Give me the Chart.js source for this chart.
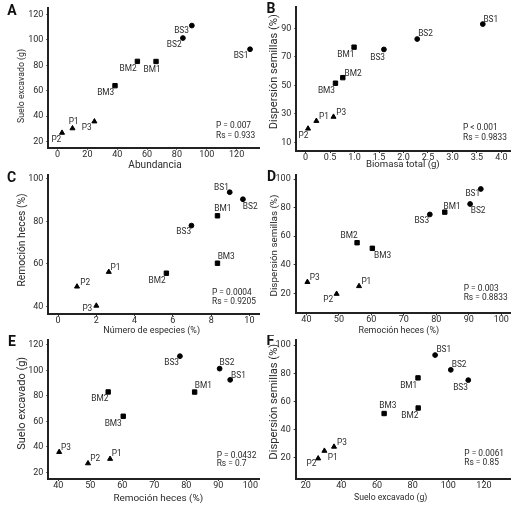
<!DOCTYPE html>
<html><head><meta charset="utf-8">
<script src="https://cdn.jsdelivr.net/npm/chart.js@4.4.1/dist/chart.umd.min.js"></script>
<style>
html,body{margin:0;padding:0;background:#fff;width:528px;height:507px;overflow:hidden;position:relative}
canvas{position:absolute}
</style></head><body>
<script>
// ---- data ----
const sites = ['BS1','BS2','BS3','BM1','BM2','BM3','P1','P2','P3'];
const siteType = ['BS','BS','BS','BM','BM','BM','P','P','P'];
const sueloExcavado = [92.6, 101.4, 111.2, 83, 83.1, 64, 30.5, 27, 35.9];
const abundancia = [129, 84, 90, 66, 53.5, 38.5, 10, 3, 24.7];
const dispersionSemillas = [93, 82.5, 75.2, 76.8, 55.4, 51.5, 25, 19.6, 27.9];
const biomasaTotal = [3.62, 2.28, 1.6, 0.99, 0.76, 0.61, 0.22, 0.05, 0.57];
const remocionHeces = [93.7, 90.4, 78, 82.6, 55.6, 60.3, 56.2, 49.3, 40.3];
const numeroEspecies = [8.97, 9.66, 6.97, 8.33, 5.66, 8.33, 2.65, 0.99, 2.0];

// ---- tick values / labels ----
const ticksAbundancia = [0,20,40,60,80,100,120];
const ticksSuelo = [20,40,60,80,100,120];
const ticksBiomasa = [0,0.5,1,1.5,2,2.5,3,3.5,4];
const labelsBiomasa = ['0','0.5','1.0','1.5','2.0','2.5','3.0','3.5','4.0'];
const ticksDispersionB = [10,30,50,70,90];
const ticksDispersion = [20,40,60,80,100];
const ticksRemocionY = [40,60,80,100];
const ticksRemocionX = [40,50,60,70,80,90,100];
const ticksEspecies = [0,2,4,6,8,10];

// ---- statistics text ----
const statsA = ['P = 0.007','Rs = 0.933'];
const statsB = ['P < 0.001','Rs = 0.9833'];
const statsC = ['P = 0.0004','Rs = 0.9205'];
const statsD = ['P = 0.003','Rs = 0.8833'];
const statsE = ['P = 0.0432','Rs = 0.7'];
const statsF = ['P = 0.0061','Rs = 0.85'];

// ---- layout / styling (not data) ----
const FONT = 'Roboto';
const TXT = '#2a2a2a';
const colLeft = [0,264], rowTop = [0,165,335], CW = 264, CH = 175;
const styleMap = {BS:'circle', BM:'rect', P:'triangle'};
const radiusMap = {BS:2.4, BM:3.1, P:2.9};
const TICK_FS = 9, LBL_FS = 8.3, NOTE_FS = 8.4;

const panels = [
 {letter:'A', col:0,row:0, x:abundancia, y:sueloExcavado, xTitle:'Abundancia', yTitle:'Suelo excavado (g)',
  xTicks:ticksAbundancia, yTicks:ticksSuelo, xr:[-6.2,135], yr:[15.3,125], area:[48.3,8,263,147.7],
  xT:[155,165,53.3], yT:[22,86,74], letterPos:[12,11], stats:statsA, statsPos:[216,126,135.7],
  off:[[-9,6.7],[-8.7,6.7],[-10.3,5.7],[-4,8.3],[-9.3,8],[-9.3,7],[1.3,-6],[-5.7,6.7],[-7.7,6.7]]},
 {letter:'B', col:1,row:0, x:biomasaTotal, y:dispersionSemillas, xTitle:'Biomasa total (g)', yTitle:'Dispersión semillas (%)',
  xTicks:ticksBiomasa, xLabels:labelsBiomasa, yTicks:ticksDispersionB, xr:[-0.19,4.19], yr:[3.9,105], area:[296.3,7,510.7,151],
  xT:[402.8,165,74], yT:[274,71.7,115], letterPos:[271,9.7], stats:statsB, statsPos:[463,128.3,137.7],
  off:[[8,-4],[8.3,-5],[-6.3,8],[-8.3,7.3],[10.3,-3.7],[-9,7.7],[7.7,-4.3],[-4.7,7.3],[7.7,-3.7]]},
 {letter:'C', col:0,row:1, x:numeroEspecies, y:remocionHeces, xTitle:'Número de especies (%)', yTitle:'Remoción heces (%)',
  xTicks:ticksEspecies, yTicks:ticksRemocionY, xr:[-0.51,10.5], yr:[36.4,101.8], area:[48.3,175,263,314],
  xT:[151.7,331,96.7], yT:[22.7,240,93.3], letterPos:[11.7,178.3], stats:statsC, statsPos:[212,293.3,301.7],
  off:[[-8.3,-4.3],[7.3,7.3],[-7.7,6.7],[5.3,-7],[-9.3,8],[8.7,-6.7],[6.7,-4],[8.3,-3.3],[-9,3.3]]},
 {letter:'D', col:1,row:1, x:remocionHeces, y:dispersionSemillas, xTitle:'Remoción heces (%)', yTitle:'Dispersión semillas (%)',
  xTicks:ticksRemocionX, yTicks:ticksDispersion, xr:[36.7,102.9], yr:[6,102.8], area:[295.7,175,510.7,313.3],
  xT:[398.7,331,80.7], yT:[274.3,245.5,102], letterPos:[271.5,177.5], stats:statsD, statsPos:[463.7,289,298.3],
  off:[[-8,5.3],[8,6.7],[-8,6.3],[7.3,-5.7],[-8,-6.3],[10.3,7.3],[7.3,-4],[-8.3,6.3],[7.3,-4.3]]},
 {letter:'E', col:0,row:2, x:remocionHeces, y:sueloExcavado, xTitle:'Remoción heces (%)', yTitle:'Suelo excavado (g)',
  xTicks:ticksRemocionX, yTicks:ticksSuelo, xr:[36.9,102.7], yr:[14.7,123.9], area:[48.3,340,263,479],
  xT:[158.3,498.3,90], yT:[22,403.3,93], letterPos:[12,342.3], stats:statsE, statsPos:[216.7,455.7,464.3],
  off:[[8.3,-4.3],[7.3,-5.7],[-8.3,7],[8.7,-6.3],[-8.3,7.3],[-10,7.7],[6.7,-5.3],[7.3,-4.3],[6.7,-4]]},
 {letter:'F', col:1,row:2, x:sueloExcavado, y:dispersionSemillas, xTitle:'Suelo excavado (g)', yTitle:'Dispersión semillas (%)',
  xTicks:ticksSuelo, yTicks:ticksDispersion, xr:[14.4,135], yr:[5,103.7], area:[295.7,339,510.7,479],
  xT:[390.7,498,73.3], yT:[274,401.7,116], letterPos:[270.3,341.7], stats:statsF, statsPos:[464.3,454,463.3],
  off:[[8.7,-5.3],[8.3,-5],[-7.7,8],[-9.3,8],[-8.3,8],[3.7,-7.7],[8.3,6.7],[-6.7,5.7],[8,-4.3]]}
];

function zeroPad(s){ s.paddingTop=0; s.paddingBottom=0; s.paddingLeft=0; s.paddingRight=0; }
function fitFont(ctx, text, target){
  ctx.font = '10px '+FONT;
  const w = ctx.measureText(text).width;
  return (10*target/w).toFixed(2)+'px '+FONT;
}

panels.forEach(p => {
  const ox = colLeft[p.col], oy = rowTop[p.row];
  const cv = document.createElement('canvas');
  cv.width = CW; cv.height = CH;
  cv.style.left = ox+'px'; cv.style.top = oy+'px';
  cv.style.width = CW+'px'; cv.style.height = CH+'px';
  document.body.appendChild(cv);
  const [l,t,r,b] = p.area;

  const textPlugin = {
    id:'text'+p.letter,
    afterDatasetsDraw(chart){
      const ctx = chart.ctx;
      const meta = chart.getDatasetMeta(0);
      ctx.save();
      ctx.fillStyle = TXT;
      ctx.textAlign='center'; ctx.textBaseline='middle';
      // point labels
      ctx.font = LBL_FS+'px '+FONT;
      meta.data.forEach((el,i)=>{
        ctx.fillText(sites[i], el.x+p.off[i][0], el.y+p.off[i][1]);
      });
      // statistics
      ctx.font = NOTE_FS+'px '+FONT;
      ctx.textAlign='left';
      ctx.fillText(p.stats[0], p.statsPos[0]-ox, p.statsPos[1]-oy);
      ctx.fillText(p.stats[1], p.statsPos[0]-ox, p.statsPos[2]-oy);
      // axis titles
      ctx.textAlign='center';
      ctx.font = fitFont(ctx, p.xTitle, p.xT[2]);
      ctx.fillText(p.xTitle, p.xT[0]-ox, p.xT[1]-oy);
      ctx.font = fitFont(ctx, p.yTitle, p.yT[2]);
      ctx.save();
      ctx.translate(p.yT[0]-ox, p.yT[1]-oy);
      ctx.rotate(-Math.PI/2);
      ctx.fillText(p.yTitle, 0, 0);
      ctx.restore();
      // panel letter
      ctx.font = 'bold 14px '+FONT;
      ctx.fillStyle = '#111';
      ctx.fillText(p.letter, p.letterPos[0]-ox, p.letterPos[1]-oy);
      ctx.restore();
    }
  };

  new Chart(cv, {
    type:'scatter',
    data:{datasets:[{
      data: p.x.map((v,i)=>({x:v, y:p.y[i]})),
      pointStyle: c => styleMap[siteType[c.dataIndex]],
      pointRadius: c => radiusMap[siteType[c.dataIndex]],
      backgroundColor:'#000', borderColor:'#000', borderWidth:1
    }]},
    options:{
      responsive:false, animation:false,
      layout:{padding:{left:0, top:t-oy, right:ox+CW-r, bottom:0}},
      plugins:{legend:{display:false}, tooltip:{enabled:false}},
      scales:{
        x:{
          type:'linear', min:p.xr[0], max:p.xr[1],
          afterBuildTicks: s => { s.ticks = p.xTicks.map(v=>({value:v})); },
          afterFit: s => { s.height = oy+CH-b; zeroPad(s); },
          ticks:{ autoSkip:false, maxRotation:0, color:TXT, padding:-0.5,
            font:{family:FONT,size:TICK_FS},
            callback: v => { const k = p.xTicks.indexOf(v); return p.xLabels ? p.xLabels[k] : String(v); } },
          grid:{display:true, drawOnChartArea:false, drawTicks:true, tickLength:2, color:'#333', lineWidth:1},
          border:{display:true, color:'#222', width:2},
          title:{display:false}
        },
        y:{
          type:'linear', min:p.yr[0], max:p.yr[1],
          afterBuildTicks: s => { s.ticks = p.yTicks.map(v=>({value:v})); },
          afterFit: s => { s.width = l-ox; zeroPad(s); },
          ticks:{ autoSkip:false, color:TXT, padding:3, font:{family:FONT,size:TICK_FS},
            callback: v => String(v) },
          grid:{display:true, drawOnChartArea:false, drawTicks:true, tickLength:2, color:'#333', lineWidth:1},
          border:{display:true, color:'#222', width:2},
          title:{display:false}
        }
      }
    },
    plugins:[textPlugin]
  });
});
</script></body></html>
